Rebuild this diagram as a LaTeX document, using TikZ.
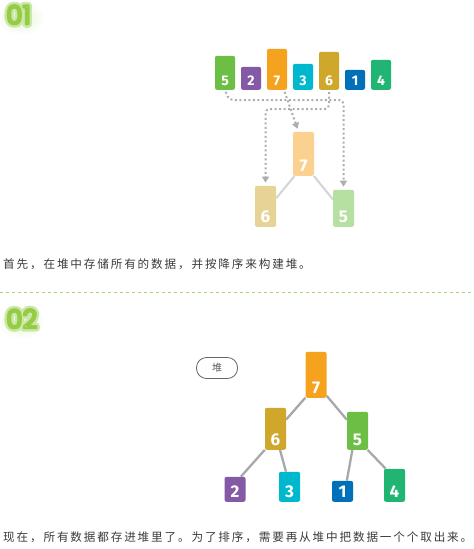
\documentclass[tikz,border=0pt]{standalone}
\usepackage{fontspec}
\usetikzlibrary{arrows.meta}
\usetikzlibrary{backgrounds}
\newfontfamily\cjk{Noto Sans CJK SC}[LetterSpace=16]
\newfontfamily\cjkplain{Noto Sans CJK SC}
\newfontfamily\numfont{Fira Sans}
\newfontfamily\tagfont{Poppins}
\definecolor{cGreen}{HTML}{6DBE45}
\definecolor{cPurple}{HTML}{8459A5}
\definecolor{cOrange}{HTML}{F5A31F}
\definecolor{cCyan}{HTML}{00B8CD}
\definecolor{cGold}{HTML}{CFA72B}
\definecolor{cBlue}{HTML}{0071B9}
\definecolor{cTeal}{HTML}{21B573}
\definecolor{cText}{HTML}{3A3A3A}
\definecolor{cLine}{HTML}{A8A8AA}
\definecolor{cDot}{HTML}{ADADAD}
\definecolor{cSep}{HTML}{A4D670}
\definecolor{cGlow}{HTML}{9CCF55}
% outlined text: white fill, green stroke; glow: wide pale stroke
\newcommand\outlined[1]{\special{pdf:literal direct 2 Tr 2.2 w 1 j 0.58 0.80 0.27 RG}#1\special{pdf:literal direct 0 Tr}}
\newcommand\glowed[1]{\special{pdf:literal direct 1 Tr 7 w 1 j 0.80 0.91 0.66 RG}#1\special{pdf:literal direct 0 Tr}}

\begin{document}
\begin{tikzpicture}[x=1pt,y=-1pt,
 bar/.style={rounded corners=2pt, minimum width=21pt, inner xsep=0pt, inner ysep=4.5pt, text depth=0pt, text=white, anchor=south, font=\numfont\bfseries\fontsize{17}{17}\selectfont},
 small/.style={minimum width=20pt, font=\numfont\bfseries\fontsize{14}{14}\selectfont},
 edge/.style={cLine, line width=2.3pt},
 faded/.style={black!17, line width=2pt},
 flow/.style={cDot, line width=2pt, dash pattern=on 2pt off 2.5pt, rounded corners=4pt, -{Triangle[width=7pt,length=6pt]}, shorten >=3pt, shorten <=2pt},
 txt/.style={anchor=west, text=cText, font=\cjk\fontsize{11.6}{14}\selectfont, inner sep=0pt},
 tag/.style={anchor=north west, inner sep=0pt, text=white, font=\tagfont\fontsize{26}{26}\selectfont},
 glow/.style={inner color=cGlow!25, outer color=white}]
\useasboundingbox (0,0) rectangle (474,549);

% step labels
\foreach \t/\y in {01/5, 02/309} {
 \shade[glow] (21,\y+13) ellipse (24pt and 17pt);
 \node[tag] (tag\t) at (6,\y) {\rlap{\glowed{\t}}\outlined{\t}};
}

% input row
\foreach \v/\c/\h [count=\i] in {5/cGreen/25, 2/cPurple/14, 7/cOrange/32, 3/cCyan/17, 6/cGold/29, 1/cBlue/11, 4/cTeal/21}
 \node[bar, small, fill=\c, text height=\h pt] (a\v) at (199+26*\i, 90) {\v};

% heap being built
\node[bar, fill=cOrange!50, text height=35pt] (f7) at (303.5,176) {7};
\node[bar, fill=cGold!50, text height=32pt] (f6) at (265.5,227) {6};
\node[bar, fill=cGreen!50, text height=28pt] (f5) at (343.5,227) {5};
\begin{scope}[on background layer]
 \draw[faded] (f7.-112) -- (f6.37);
 \draw[faded] (f7.-65) -- (f5.140);
\end{scope}

\draw[flow] (a5.south) -- ++(4,10) -| (f5.north);
\draw[flow] ([xshift=7pt]a7.south) -- ([xshift=-5pt]f7.north);
\draw[flow] (a6.south) -- ++(0,19) -| (f6.north);

\node[txt] (s1) at (3,264.5) {首先，在堆中存储所有的数据，并按降序来构建堆。};

\coordinate (sepL) at (0,292);
\coordinate (sepR) at (474,292);
\draw[cSep, line width=1pt, dash pattern=on 3pt off 3pt] (sepL) -- (sepR);

% full heap
\node[draw=black!60, line width=0.8pt, rounded corners=10pt, minimum width=41pt, minimum height=21pt, inner sep=0pt, text=black!65, font=\cjkplain\fontsize{10}{10}\selectfont] (heap) at (217,368) {堆};

\node[bar, fill=cOrange, text height=37pt] (b7) at (316,398) {7};
\node[bar, fill=cGold, text height=33pt] (b6) at (275.5,450) {6};
\node[bar, fill=cGreen, text height=29pt] (b5) at (357.5,450) {5};
\node[bar, fill=cPurple, text height=16pt] (b2) at (235,502) {2};
\node[bar, fill=cCyan, text height=21pt] (b3) at (289.5,502) {3};
\node[bar, fill=cBlue, text height=12pt] (b1) at (342.5,502) {1};
\node[bar, fill=cTeal, text height=24pt] (b4) at (394.5,502) {4};
\begin{scope}[on background layer]
 \draw[edge] (b7.-115) -- (b6.41);
 \draw[edge] (b7.-63) -- (b5.134);
 \draw[edge] (b6.-117) -- (b2.65);
 \draw[edge] (b6.-78) -- (b3.103);
 \draw[edge] (b5.-105) -- (b1.68);
 \draw[edge] (b5.-62) -- (b4.118);
\end{scope}

\node[txt] (s2) at (3,537) {现在，所有数据都存进堆里了。为了排序，需要再从堆中把数据一个个取出来。};
\end{tikzpicture}
\end{document}
